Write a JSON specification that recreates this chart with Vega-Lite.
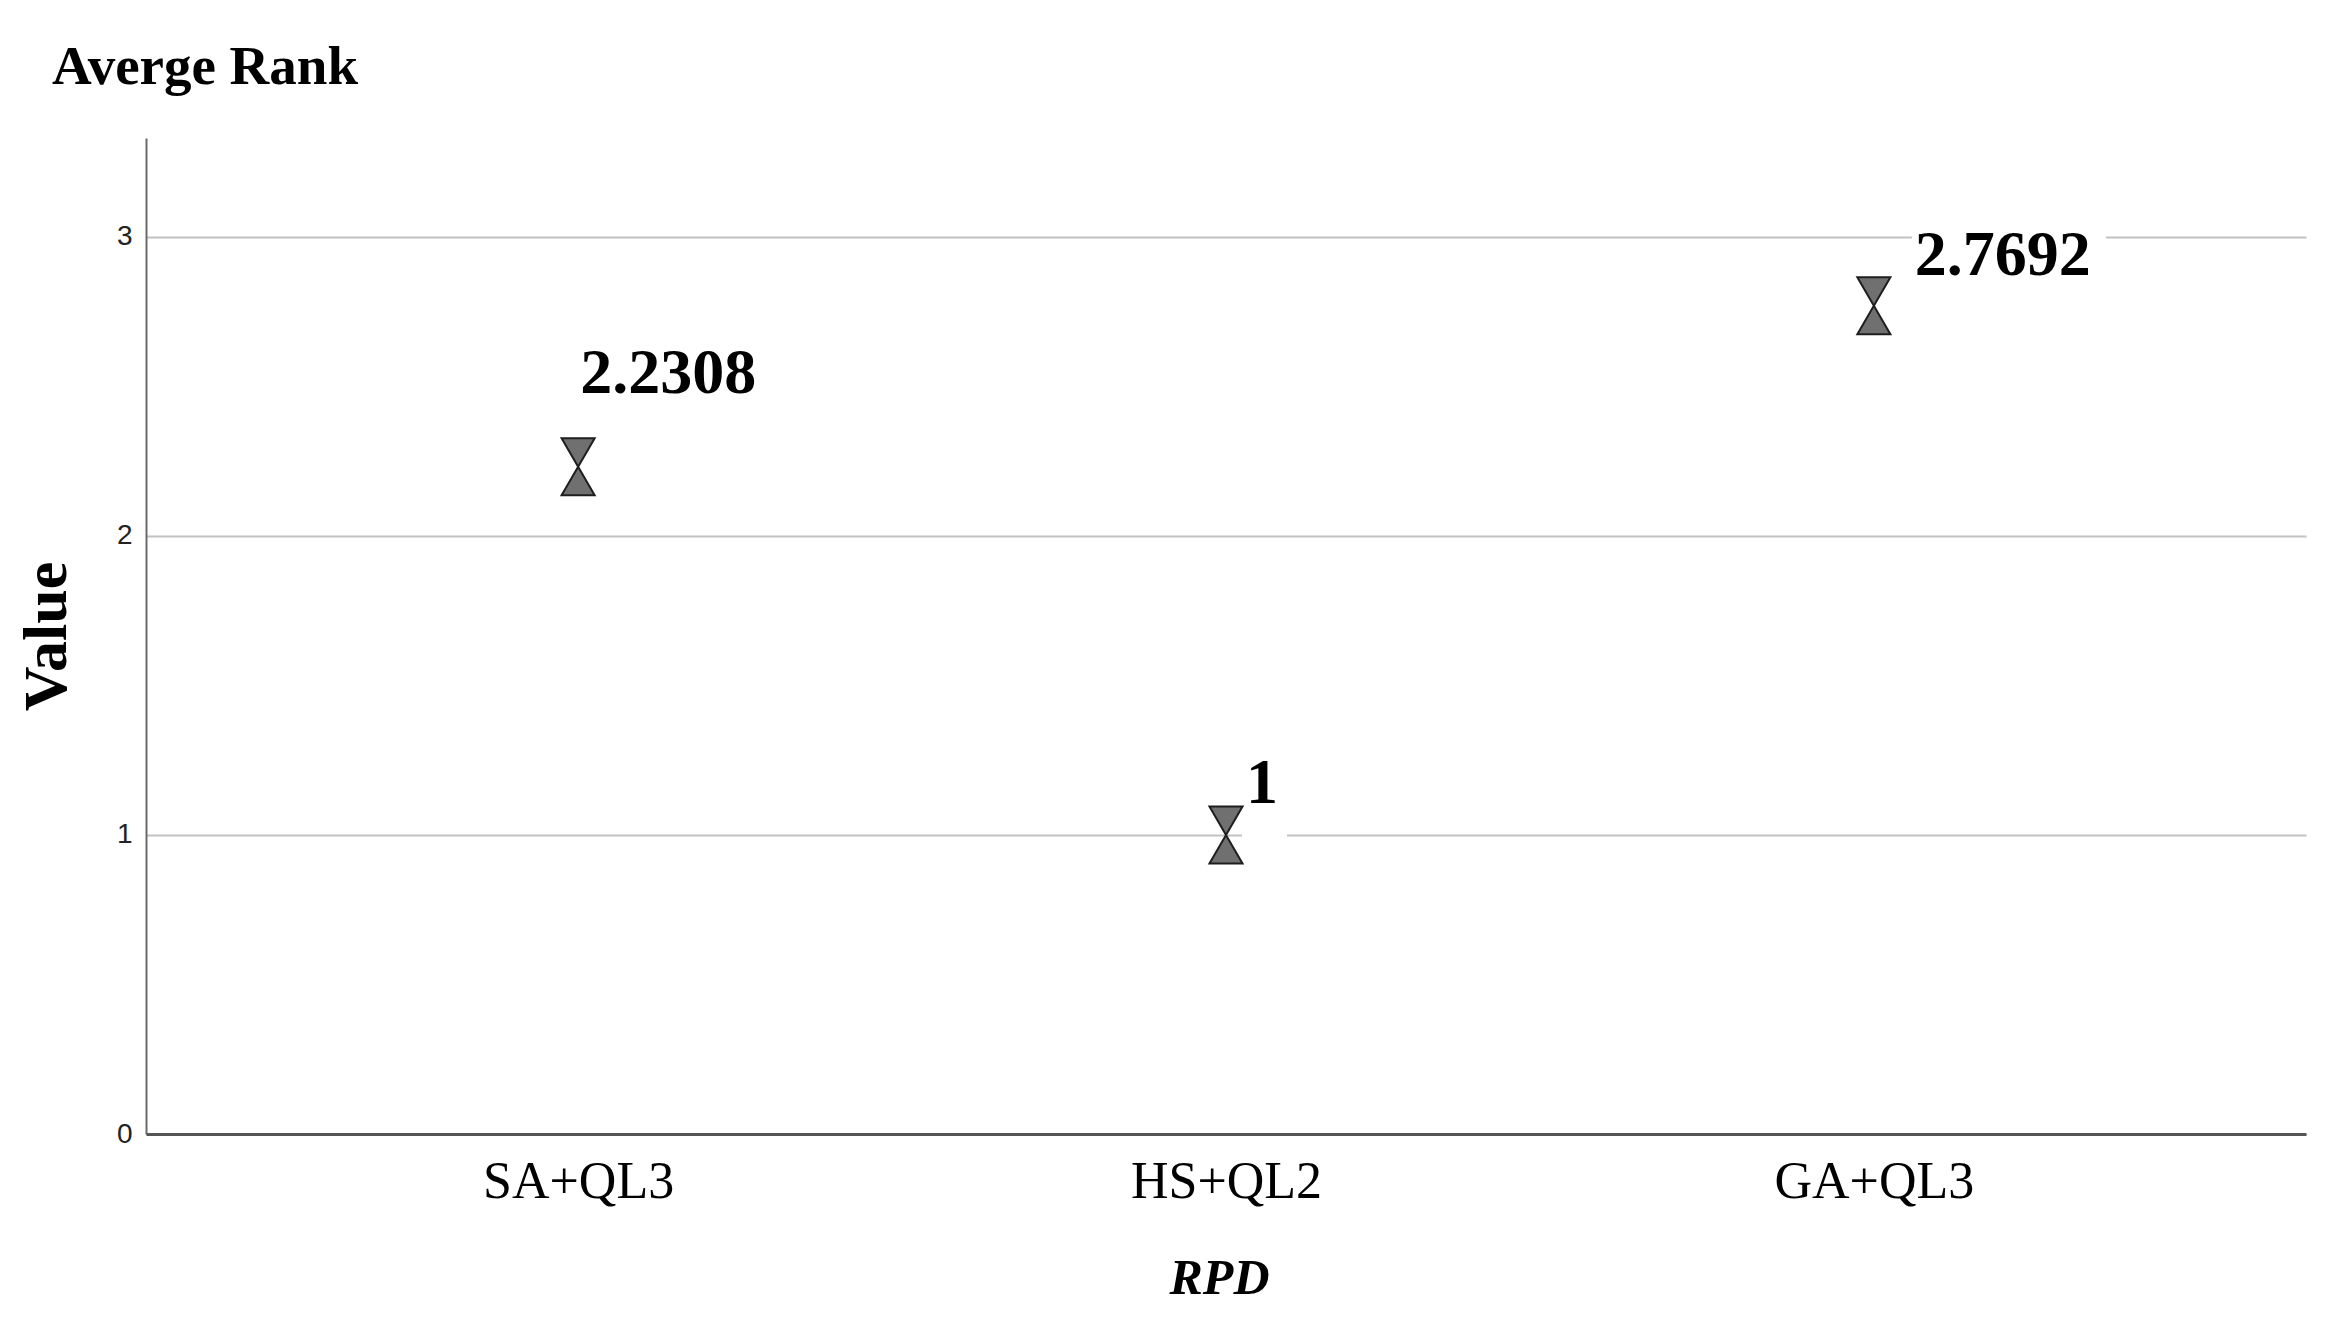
{
  "$schema": "https://vega.github.io/schema/vega-lite/v6.json",
  "description": "Average rank of RPD methods, SPSS-style mean markers with value labels",
  "autosize": {"type": "none"},
  "width": 2160,
  "height": 996,
  "padding": {"left": 146, "top": 138, "right": 42, "bottom": 202},
  "background": "white",
  "title": {
    "text": "Averge Rank",
    "anchor": "start",
    "frame": "group",
    "dx": -94,
    "offset": -1,
    "baseline": "alphabetic",
    "font": "Liberation Serif",
    "fontWeight": "bold",
    "fontSize": 55,
    "color": "black"
  },
  "config": {"view": {"stroke": null}},
  "datasets": {
    "ranks": [
      {"method": "SA+QL3", "value": 2.2308, "label": "2.2308"},
      {"method": "HS+QL2", "value": 1, "label": "1"},
      {"method": "GA+QL3", "value": 2.7692, "label": "2.7692"}
    ]
  },
  "data": {"name": "ranks"},
  "encoding": {
    "x": {
      "field": "method",
      "type": "nominal",
      "sort": ["SA+QL3", "HS+QL2", "GA+QL3"],
      "title": "RPD",
      "scale": {"type": "point", "padding": 0.667},
      "axis": {
        "ticks": false,
        "tickSize": 0,
        "grid": false,
        "domainColor": "#555555",
        "domainWidth": 3,
        "labelAngle": 0,
        "labelLimit": 0,
        "labelFont": "Liberation Serif",
        "labelFontSize": 52,
        "labelColor": "black",
        "labelBaseline": "alphabetic",
        "labelPadding": 63,
        "titleFont": "Liberation Serif",
        "titleFontWeight": "bold",
        "titleFontStyle": "italic",
        "titleFontSize": 50,
        "titleColor": "black",
        "titleBaseline": "alphabetic",
        "titleX": 1073,
        "titleY": 159
      }
    },
    "y": {
      "field": "value",
      "type": "quantitative",
      "title": "Value",
      "scale": {"domain": [0, 3.33], "nice": false},
      "axis": {
        "values": [0, 1, 2, 3],
        "grid": true,
        "gridColor": "#c2c2c2",
        "gridWidth": 2,
        "ticks": false,
        "tickSize": 0,
        "domainColor": "#6a6a6a",
        "domainWidth": 2,
        "labelFont": "Liberation Sans",
        "labelFontSize": 28,
        "labelColor": "#222222",
        "labelPadding": 14,
        "titleFont": "Liberation Serif",
        "titleFontWeight": "bold",
        "titleFontSize": 62,
        "titleColor": "black",
        "titleAngle": -90,
        "titleAlign": "center",
        "titleBaseline": "alphabetic",
        "titleX": -81,
        "titleY": 498
      }
    }
  },
  "layer": [
    {
      "transform": [{"filter": "datum.method === 'HS+QL2'"}],
      "mark": {"type": "rect", "fill": "white", "xOffset": 16, "x2Offset": 61, "yOffset": 10, "y2Offset": -80},
      "encoding": {"x2": {"field": "method"}, "y2": {"field": "value"}}
    },
    {
      "transform": [{"filter": "datum.method === 'GA+QL3'"}],
      "mark": {"type": "rect", "fill": "white", "xOffset": 38, "x2Offset": 232, "yOffset": -16, "y2Offset": -81},
      "encoding": {"x2": {"field": "method"}, "y2": {"field": "value"}}
    },
    {
      "mark": {
        "type": "point",
        "shape": "M-0.58,-1H0.58L-0.58,1H0.58Z",
        "size": 3249,
        "filled": true,
        "fill": "#707070",
        "stroke": "#1e1e1e",
        "strokeWidth": 2,
        "opacity": 1
      }
    },
    {
      "transform": [{"filter": "datum.method === 'SA+QL3'"}],
      "mark": {"type": "text", "align": "left", "baseline": "alphabetic", "dx": 2, "dy": -74, "font": "Liberation Serif", "fontWeight": "bold", "fontSize": 64, "color": "black"},
      "encoding": {"text": {"field": "label"}}
    },
    {
      "transform": [{"filter": "datum.method === 'HS+QL2'"}],
      "mark": {"type": "text", "align": "left", "baseline": "alphabetic", "dx": 20, "dy": -32, "font": "Liberation Serif", "fontWeight": "bold", "fontSize": 64, "color": "black"},
      "encoding": {"text": {"field": "label"}}
    },
    {
      "transform": [{"filter": "datum.method === 'GA+QL3'"}],
      "mark": {"type": "text", "align": "left", "baseline": "alphabetic", "dx": 41, "dy": -31, "font": "Liberation Serif", "fontWeight": "bold", "fontSize": 64, "color": "black"},
      "encoding": {"text": {"field": "label"}}
    }
  ]
}
